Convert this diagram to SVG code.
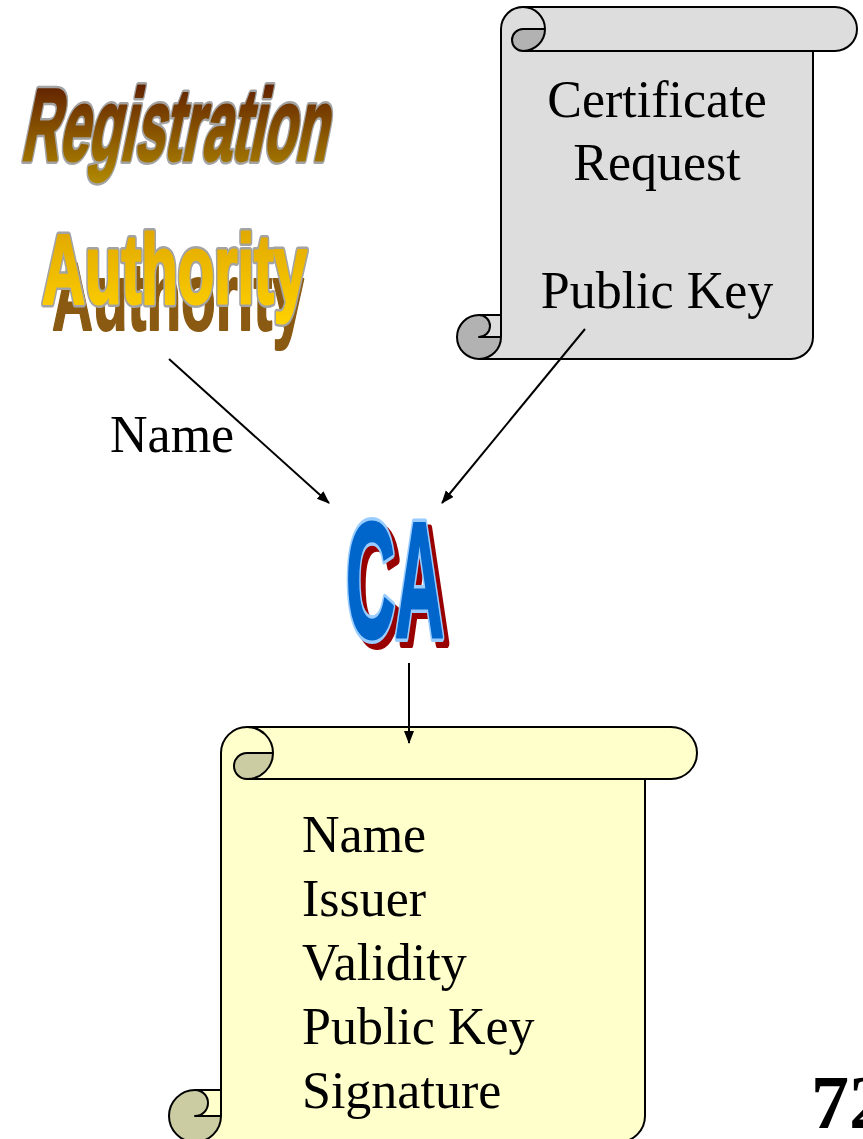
<svg xmlns="http://www.w3.org/2000/svg" width="863" height="1139" viewBox="0 0 863 1139">
<style>
.serif{font-family:"Liberation Serif","Times New Roman",serif;font-size:52px;fill:#000}
.outline{fill:none;stroke:#000;stroke-width:2;stroke-linejoin:round}
.conn{stroke:#000;stroke-width:2;fill:none}
.wa{font-family:"Liberation Sans",Arial,sans-serif;font-weight:bold;stroke-linejoin:round}
</style>
<defs>
<marker id="arr" markerUnits="userSpaceOnUse" markerWidth="13" markerHeight="11" refX="12" refY="5" orient="auto">
<path d="M0,0 L13,5 L0,10 Z" fill="#000"/>
</marker>
<linearGradient id="gReg" x1="0" y1="0" x2="0" y2="1">
<stop offset="0" stop-color="#541000"/>
<stop offset="1" stop-color="#b08800"/>
</linearGradient>
<linearGradient id="gAuth" x1="0" y1="0" x2="0" y2="1">
<stop offset="0" stop-color="#dca200"/>
<stop offset="1" stop-color="#ffd200"/>
</linearGradient>
</defs>
<rect width="863" height="1139" fill="#fff"/>

<g id="registration-authority">
<g transform="translate(20,160) skewX(-11.5)">
<text class="wa" x="0" y="0" font-size="102" textLength="306" lengthAdjust="spacingAndGlyphs" fill="#a3a3a3" stroke="#a3a3a3" stroke-width="8">Registration</text>
<text class="wa" x="0" y="0" font-size="102" textLength="306" lengthAdjust="spacingAndGlyphs" fill="url(#gReg)" stroke="url(#gReg)" stroke-width="3">Registration</text>
</g>
<text class="wa" x="52" y="330" font-size="96" textLength="252" lengthAdjust="spacingAndGlyphs" fill="#8a5a12" stroke="#8a5a12" stroke-width="2">Authority</text>
<text class="wa" x="42" y="303" font-size="98" textLength="265" lengthAdjust="spacingAndGlyphs" fill="#a3a3a3" stroke="#a3a3a3" stroke-width="8">Authority</text>
<text class="wa" x="42" y="303" font-size="98" textLength="265" lengthAdjust="spacingAndGlyphs" fill="url(#gAuth)" stroke="url(#gAuth)" stroke-width="3">Authority</text>
</g>

<g id="certificate-request">
<path fill="#dddddd" d="M479,359 A22,22 0 0 0 501,337 L501,29 A22,22 0 0 1 523,7 L835,7 A22,22 0 0 1 835,51 L813,51 L813,337 A22,22 0 0 1 791,359 Z"/>
<rect x="479" y="315" width="22" height="22" fill="#dddddd"/>
<path fill="#b2b2b2" d="M545,29 A22,22 0 0 1 523,51 A11,11 0 0 1 523,29 Z M501,337 A22,22 0 1 1 479,315 A11,11 0 0 1 479,337 Z"/>
<path class="outline" d="M501,315 L501,29 A22,22 0 0 1 523,7 L835,7 A22,22 0 0 1 835,51 L813,51 L813,337 A22,22 0 0 1 791,359 L479,359 A22,22 0 0 1 479,315 Z M523,7 A22,22 0 0 1 523,51 A11,11 0 0 1 523,29 L545,29 M813,51 L523,51 M479,315 A11,11 0 0 1 479,337 L501,337 M479,359 A22,22 0 0 0 501,337 L501,315"/>
<text class="serif" x="657" y="117" text-anchor="middle">Certificate</text>
<text class="serif" x="657" y="180" text-anchor="middle">Request</text>
<text class="serif" x="657" y="308" text-anchor="middle">Public Key</text>
</g>

<g id="ca">
<text class="wa" x="351" y="643" font-size="166" textLength="98" lengthAdjust="spacingAndGlyphs" fill="#990000" stroke="#990000" stroke-width="10">CA</text>
<text class="wa" x="346" y="637" font-size="166" textLength="98" lengthAdjust="spacingAndGlyphs" fill="#99ccff" stroke="#99ccff" stroke-width="10">CA</text>
<text class="wa" x="346" y="637" font-size="166" textLength="98" lengthAdjust="spacingAndGlyphs" fill="#0066cc" stroke="#0066cc" stroke-width="3">CA</text>
</g>

<g id="certificate">
<path fill="#ffffcc" d="M195,1142 A26,26 0 0 0 221,1116 L221,753 A26,26 0 0 1 247,727 L671,727 A26,26 0 0 1 671,779 L645,779 L645,1116 A26,26 0 0 1 619,1142 Z"/>
<rect x="195" y="1090" width="26" height="26" fill="#ffffcc"/>
<path fill="#cccca3" d="M273,753 A26,26 0 0 1 247,779 A13,13 0 0 1 247,753 Z M221,1116 A26,26 0 1 1 195,1090 A13,13 0 0 1 195,1116 Z"/>
<path class="outline" d="M221,1090 L221,753 A26,26 0 0 1 247,727 L671,727 A26,26 0 0 1 671,779 L645,779 L645,1116 A26,26 0 0 1 619,1142 L195,1142 A26,26 0 0 1 195,1090 Z M247,727 A26,26 0 0 1 247,779 A13,13 0 0 1 247,753 L273,753 M645,779 L247,779 M195,1090 A13,13 0 0 1 195,1116 L221,1116 M195,1142 A26,26 0 0 0 221,1116 L221,1090"/>
<text class="serif" x="302" y="852">Name</text>
<text class="serif" x="302" y="916">Issuer</text>
<text class="serif" x="302" y="980">Validity</text>
<text class="serif" x="302" y="1044">Public Key</text>
<text class="serif" x="302" y="1108">Signature</text>
</g>

<g id="connectors">
<line class="conn" x1="169" y1="359" x2="329" y2="503" marker-end="url(#arr)"/>
<line class="conn" x1="585" y1="329" x2="442" y2="503" marker-end="url(#arr)"/>
<line class="conn" x1="409" y1="663" x2="409" y2="743" marker-end="url(#arr)"/>
<text class="serif" x="110" y="452">Name</text>
</g>

<g id="page-number">
<text x="811" y="1128" font-family="Liberation Serif, 'Times New Roman', serif" font-weight="bold" font-size="76" fill="#000">72</text>
</g>
</svg>
